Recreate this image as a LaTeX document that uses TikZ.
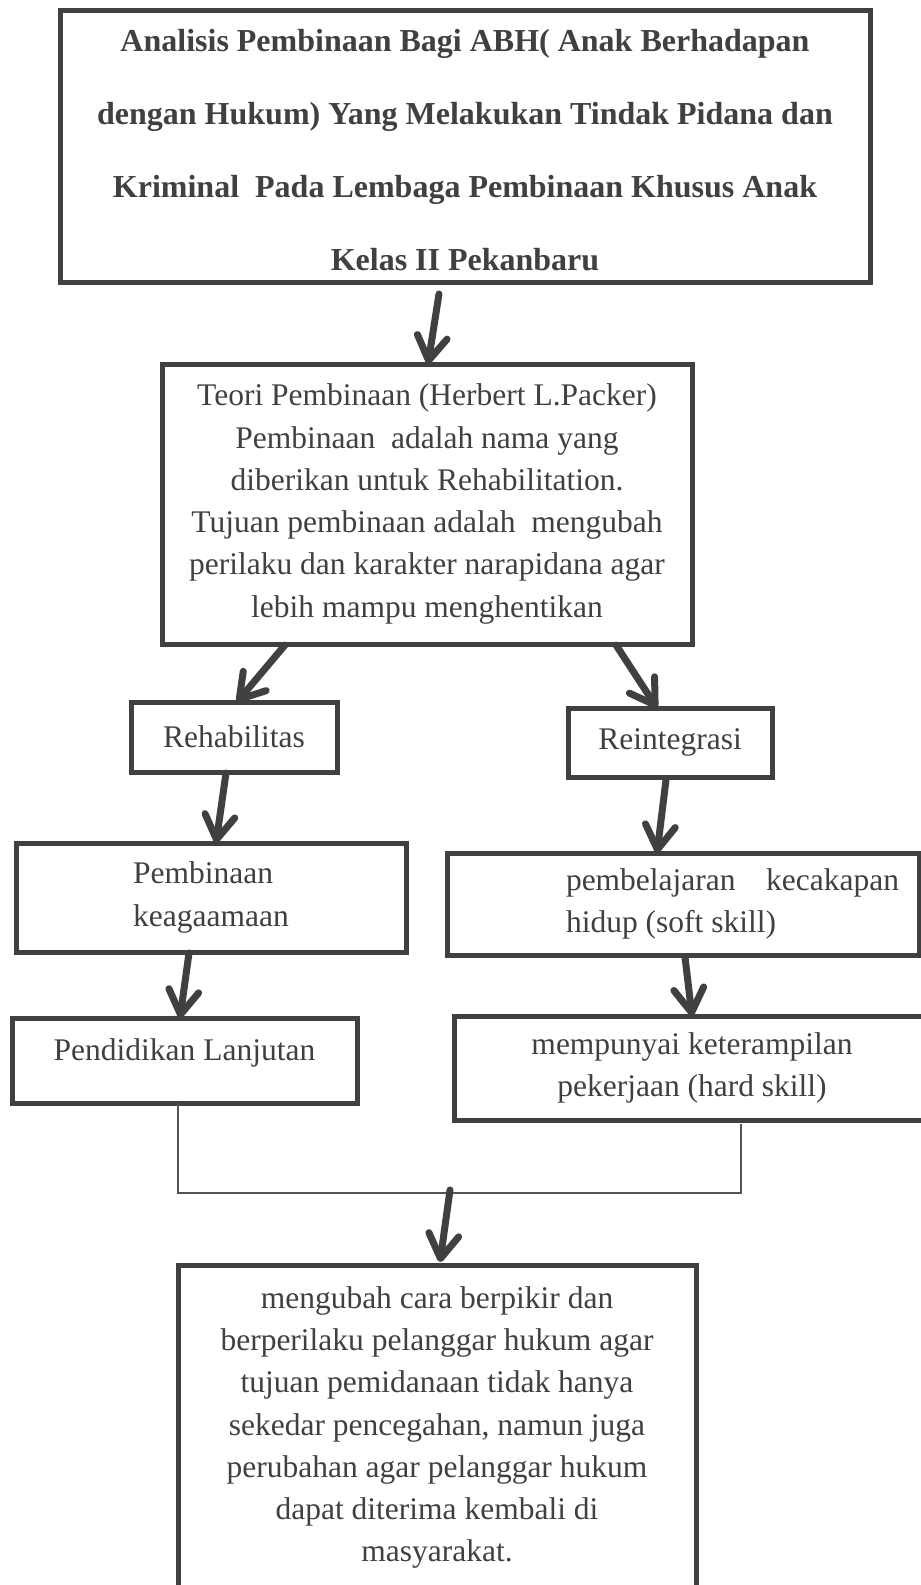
\documentclass[tikz,border=0pt]{standalone}
\usepackage{fontspec}
\setmainfont{Liberation Serif}
\usetikzlibrary{arrows.meta,positioning,calc}
\definecolor{abu}{HTML}{404040}

\begin{document}
\begin{tikzpicture}[
  x=1pt, y=-1pt,
  kotak/.style={rectangle,draw=abu,line width=5pt,outer sep=0pt,text=abu,align=center,
    font=\fontsize{31.5}{42.3}\selectfont},
  judul/.style={font=\fontsize{32}{73}\selectfont\bfseries},
  panah/.style={draw=abu,line width=7pt,line cap=round,->},
  garis/.style={draw=abu!90,line width=1.5pt},
  >={Straight Barb[round,length=24pt,width=30pt]}
  ]
  \useasboundingbox (0,0) rectangle (921,1585);
  \clip (0,0) rectangle (921,1585);

  \node [kotak,judul,minimum width=810pt,minimum height=272pt] (ABH) at (465,146)
    {\rule{0pt}{30pt}Analisis Pembinaan Bagi ABH( Anak Berhadapan\\
     dengan Hukum) Yang Melakukan Tindak Pidana dan\\
     Kriminal\ \ Pada Lembaga Pembinaan Khusus Anak\\
     Kelas II Pekanbaru};
  \node [kotak,minimum width=530pt,minimum height=280pt] (TPB) at (427,504)
    {Teori Pembinaan (Herbert L.Packer)\\
     Pembinaan\ \ adalah nama yang\\
     diberikan untuk Rehabilitation.\\
     Tujuan pembinaan adalah\ \ mengubah\\
     perilaku dan karakter narapidana agar\\
     lebih mampu menghentikan};
  \node [kotak,minimum width=206pt,minimum height=70pt] (RHB) at (234,737) {Rehabilitas};
  \node [kotak,minimum width=204pt,minimum height=69pt] (RIG) at (670,742.5) {Reintegrasi};
  \node [kotak,align=left,minimum width=390pt,minimum height=109pt] (PBK) at (211,897.5)
    {Pembinaan\\ keagaamaan};
  \node [kotak,minimum width=345pt,minimum height=85pt,text height=21pt,text depth=22pt] (PDL)
    at (184.5,1060.5) {Pendidikan Lanjutan};
  \node [kotak,align=left,minimum width=472pt,minimum height=102pt] (PBL) at (683,904)
    {\hspace*{99pt}\makebox[333pt][s]{pembelajaran kecakapan}\\
     \hspace*{99pt}hidup (soft skill)};
  \node [kotak,minimum width=476pt,minimum height=104pt] (MKP) at (692,1068)
    {mempunyai keterampilan\\ pekerjaan (hard skill)};
  \node [kotak,minimum width=518pt,minimum height=325pt] (HSL) at (437,1427.5)
    {mengubah cara berpikir dan\\
     berperilaku pelanggar hukum agar\\
     tujuan pemidanaan tidak hanya\\
     sekedar pencegahan, namun juga\\
     perubahan agar pelanggar hukum\\
     dapat diterima kembali di\\
     masyarakat.};

  \draw [panah] ([xshift=-26pt,yshift=-12pt]ABH.south) -- ([xshift=1pt]TPB.north);
  \draw [panah] ([xshift=-142pt,yshift=-1pt]TPB.south) -- ([xshift=3pt]RHB.north);
  \draw [panah] ([xshift=189pt,yshift=-1pt]TPB.south) -- ([xshift=-13pt]RIG.north);
  \draw [panah] ([xshift=-8pt,yshift=-1pt]RHB.south) -- ([xshift=5pt]PBK.north);
  \draw [panah] ([xshift=-4pt,yshift=-3pt]RIG.south) -- ([xshift=-26pt]PBL.north);
  \draw [panah] ([xshift=-22pt,yshift=-1pt]PBK.south) -- ([xshift=-4.5pt]PDL.north);
  \draw [panah] ([xshift=2pt,yshift=-2pt]PBL.south) -- (MKP.north);

  \draw [garis] ([xshift=-6.5pt]PDL.south) -- ++(0,90) -| ([xshift=49pt,yshift=-4pt]MKP.south);
  \coordinate (TMU) at (450,1190);
  \draw [panah] (TMU) -- ([xshift=3pt,yshift=3pt]HSL.north);
\end{tikzpicture}
\end{document}
